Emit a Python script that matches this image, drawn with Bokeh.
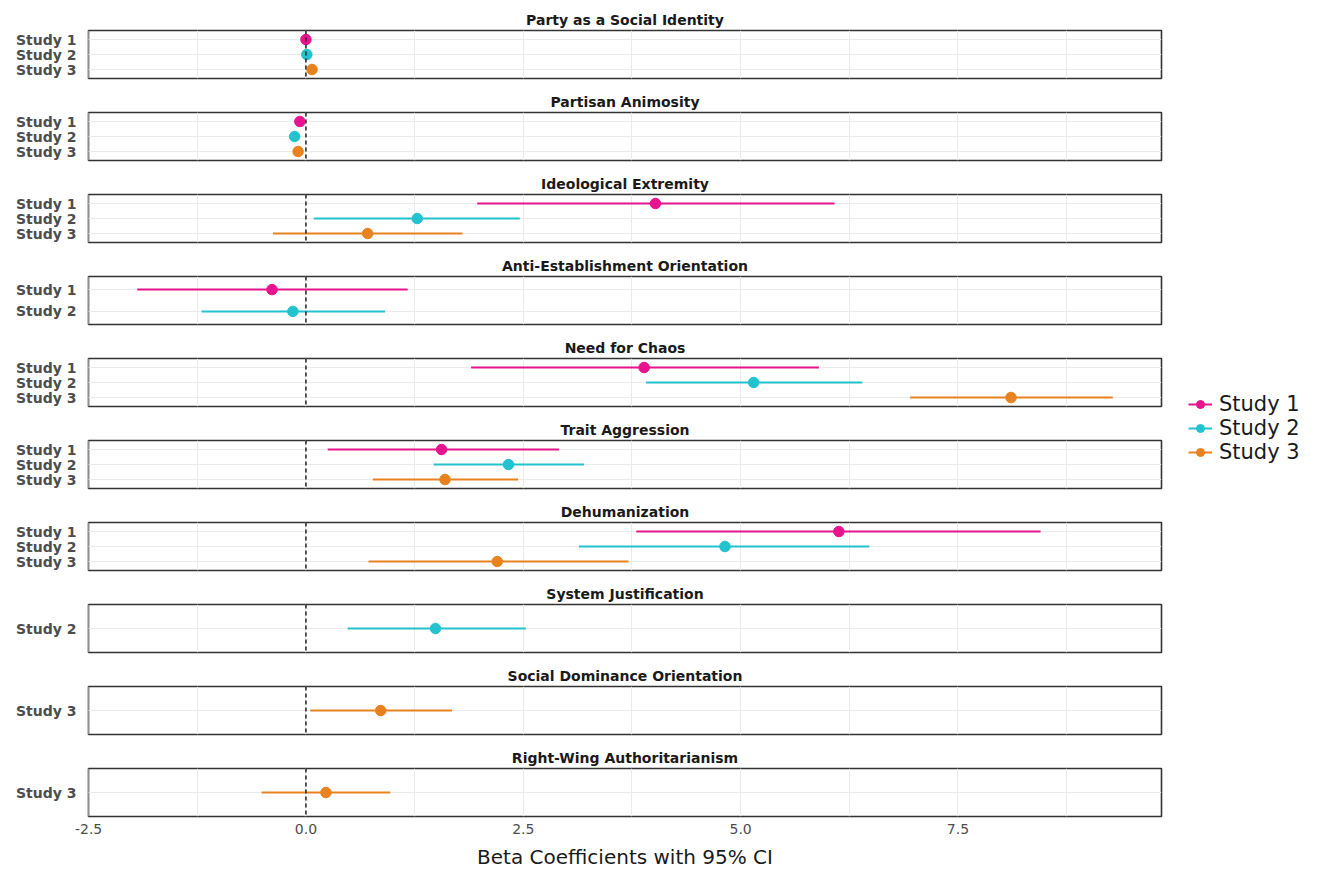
from bokeh.plotting import figure
from bokeh.models import (ColumnDataSource, Range1d, FixedTicker, PrintfTickFormatter,
                          Span, Legend, LegendItem)
from bokeh.layouts import row, column
from bokeh.embed import file_html
from bokeh.resources import INLINE

# ---------------- data ----------------
outcomes = ["Party as a Social Identity", "Partisan Animosity", "Ideological Extremity",
            "Anti-Establishment Orientation", "Need for Chaos", "Trait Aggression",
            "Dehumanization", "System Justification", "Social Dominance Orientation",
            "Right-Wing Authoritarianism"]

row_outcome = ["Party as a Social Identity"] * 3 + ["Partisan Animosity"] * 3 + \
              ["Ideological Extremity"] * 3 + ["Anti-Establishment Orientation"] * 2 + \
              ["Need for Chaos"] * 3 + ["Trait Aggression"] * 3 + ["Dehumanization"] * 3 + \
              ["System Justification", "Social Dominance Orientation", "Right-Wing Authoritarianism"]
row_study = ["Study 1", "Study 2", "Study 3",
             "Study 1", "Study 2", "Study 3",
             "Study 1", "Study 2", "Study 3",
             "Study 1", "Study 2",
             "Study 1", "Study 2", "Study 3",
             "Study 1", "Study 2", "Study 3",
             "Study 1", "Study 2", "Study 3",
             "Study 2", "Study 3", "Study 3"]
row_est = [0.00, 0.01, 0.07,
           -0.07, -0.13, -0.09,
           4.02, 1.28, 0.71,
           -0.39, -0.15,
           3.89, 5.15, 8.11,
           1.56, 2.33, 1.60,
           6.13, 4.82, 2.20,
           1.49, 0.86, 0.23]
row_low = [-0.03, -0.02, 0.04,
           -0.11, -0.16, -0.12,
           1.97, 0.09, -0.38,
           -1.94, -1.20,
           1.90, 3.91, 6.95,
           0.25, 1.47, 0.77,
           3.80, 3.14, 0.72,
           0.48, 0.05, -0.51]
row_high = [0.03, 0.04, 0.10,
            -0.02, -0.10, -0.06,
            6.08, 2.46, 1.80,
            1.17, 0.91,
            5.90, 6.40, 9.28,
            2.91, 3.20, 2.44,
            8.45, 6.48, 3.71,
            2.53, 1.68, 0.97]

studies = ["Study 1", "Study 2", "Study 3"]
study_colors = ["#E7138F", "#22C3CE", "#E8821E"]

x_ticks = [-2.5, 0.0, 2.5, 5.0, 7.5]
x_minor = [-1.25, 1.25, 3.75, 6.25, 8.75]

# ---------------- styling ----------------
FONT = "DejaVu Sans"
GRID = "#EBEBEB"
color_of = dict(zip(studies, study_colors))

lo = min(row_low)
hi = max(row_high)
pad = 0.05 * (hi - lo)
x_start, x_end = lo - pad, hi + pad

figs = []
for k, outcome in enumerate(outcomes):
    idx = [i for i, o in enumerate(row_outcome) if o == outcome]
    st = [row_study[i] for i in idx]
    n = len(st)
    pos = list(range(1, n + 1))
    src = ColumnDataSource(dict(
        y=pos, est=[row_est[i] for i in idx], low=[row_low[i] for i in idx],
        high=[row_high[i] for i in idx], color=[color_of[s] for s in st]))
    last = k == len(outcomes) - 1
    p = figure(frame_width=1073, frame_height=48, output_backend="svg",
               toolbar_location=None, x_range=Range1d(x_start, x_end),
               y_range=Range1d(n + 0.6, 0.4),
               min_border_left=88, min_border_right=5,
               min_border_top=(30 if k == 0 else 0),
               min_border_bottom=(0 if last else 10))
    p.title.text = outcome
    p.title.align = "center"
    p.title.text_font = FONT
    p.title.text_font_size = "14px"
    p.title.text_font_style = "bold"
    p.title.text_color = "#1A1A1A"
    p.title.standoff = 6
    p.outline_line_color = "#333333"
    p.outline_line_width = 1.6
    p.background_fill_color = "white"
    p.border_fill_color = "white"

    xt = FixedTicker(ticks=x_ticks, minor_ticks=x_minor)
    yt = FixedTicker(ticks=pos, minor_ticks=[])
    p.xgrid.ticker = xt
    p.xgrid.grid_line_color = GRID
    p.xgrid.minor_grid_line_color = GRID
    p.ygrid.ticker = yt
    p.ygrid.grid_line_color = GRID

    p.yaxis.ticker = yt
    p.yaxis.major_label_overrides = {i: s for i, s in zip(pos, st)}
    p.yaxis.axis_line_color = None
    p.yaxis.major_tick_line_color = None
    p.yaxis.minor_tick_line_color = None
    p.yaxis.major_label_text_font = FONT
    p.yaxis.major_label_text_font_size = "14px"
    p.yaxis.major_label_text_font_style = "bold"
    p.yaxis.major_label_text_color = "#4D4D4D"
    p.yaxis.major_label_standoff = 6

    p.xaxis.ticker = xt
    p.xaxis.formatter = PrintfTickFormatter(format="%.1f")
    if last:
        p.xaxis.axis_line_color = None
        p.xaxis.major_tick_line_color = None
        p.xaxis.minor_tick_line_color = None
        p.xaxis.major_label_text_font = FONT
        p.xaxis.major_label_text_font_size = "14px"
        p.xaxis.major_label_text_color = "#4D4D4D"
        p.xaxis.major_label_standoff = 1
        p.xaxis.axis_label = "Beta Coefficients with 95% CI"
        p.xaxis.axis_label_text_font = FONT
        p.xaxis.axis_label_text_font_size = "20px"
        p.xaxis.axis_label_text_font_style = "normal"
        p.xaxis.axis_label_text_color = "#1A1A1A"
        p.xaxis.axis_label_standoff = 8
    else:
        p.xaxis.visible = False

    p.segment(x0="low", y0="y", x1="high", y1="y", line_color="color",
              line_width=2, source=src)
    p.scatter(x="est", y="y", size=10.5, fill_color="color", line_color="color",
              source=src)
    p.add_layout(Span(location=0, dimension="height", line_color="#222222",
                      line_dash="4 3", line_width=1.5))
    figs.append(p)

# ---------------- legend ----------------
lf = figure(width=150, height=860, output_backend="svg", toolbar_location=None,
            x_range=Range1d(0, 1), y_range=Range1d(0, 1), min_border=0)
lf.axis.visible = False
lf.grid.visible = False
lf.outline_line_color = None
nan = float("nan")
items = []
for s, c in zip(studies, study_colors):
    r1 = lf.line(x=[nan, nan], y=[nan, nan], line_color=c, line_width=2)
    r2 = lf.scatter(x=[nan], y=[nan], size=10.5, fill_color=c, line_color=c)
    items.append(LegendItem(label=s, renderers=[r1, r2]))
leg = Legend(items=items, location=(22, 396), label_text_font=FONT,
             label_text_font_size="21px", label_text_color="#1A1A1A",
             glyph_width=24, glyph_height=20, label_height=20, spacing=0,
             label_standoff=7, padding=0, margin=0, border_line_color=None,
             background_fill_alpha=0)
lf.add_layout(leg)

layout = row(column(*figs, spacing=0), lf, spacing=0)
open("out.html", "w").write(file_html(layout, INLINE))
